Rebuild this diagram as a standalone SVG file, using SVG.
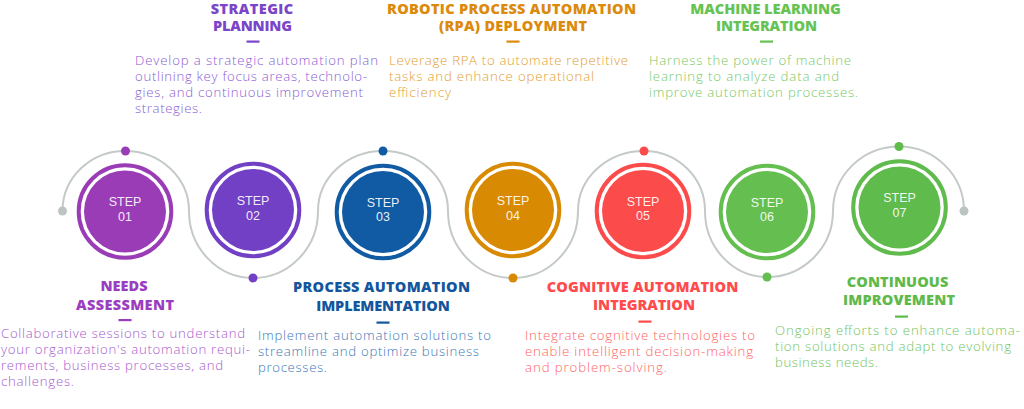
<svg xmlns="http://www.w3.org/2000/svg" width="1024" height="409" viewBox="0 0 1024 409">
<style>
.t{font-family:"Open Sans","Liberation Sans",sans-serif;font-weight:800;font-size:14.5px;text-anchor:middle}
.d{font-family:"Open Sans","Liberation Sans",sans-serif;font-weight:300;font-size:13.2px}
.s{font-family:"Liberation Sans",Arial,sans-serif;font-weight:400;font-size:12.5px;fill:#ffffff;fill-opacity:0.92;text-anchor:middle}
.ring{fill:none;stroke-width:4}
.path{fill:none;stroke:#C3CAC8;stroke-width:2}
</style>
<rect width="1024" height="409" fill="#ffffff"/>
<g id="connectors">
<path class="path" d="M62.5 211 A62.5 60 0 0 1 125 151 A64 60 0 0 1 189 211 A64 67 0 0 0 253 278 A65 67 0 0 0 318 211 A65 60 0 0 1 383 151 A65 60 0 0 1 448 211 A65 67 0 0 0 513 278 A65 67 0 0 0 578 211 A66 60 0 0 1 644 151 A61 60 0 0 1 705 211 A62 66 0 0 0 767 277 A66 66 0 0 0 833 211 A66 64.5 0 0 1 899 146.5 A65 64.5 0 0 1 964 211"/>
<circle cx="62.5" cy="211" r="4.5" fill="#BCC4C2"/>
<circle cx="964" cy="211" r="4.5" fill="#BCC4C2"/>
<circle cx="125.5" cy="151" r="4.5" fill="#9B3CB7"/>
<circle cx="253" cy="278" r="4.5" fill="#7140C4"/>
<circle cx="383" cy="151" r="4.5" fill="#105BA3"/>
<circle cx="513" cy="278" r="4.5" fill="#D88A03"/>
<circle cx="644" cy="151" r="4.5" fill="#FB4B4B"/>
<circle cx="767" cy="277" r="4.5" fill="#64BE50"/>
<circle cx="899" cy="146.5" r="4.5" fill="#5FBB4C"/>
</g>
<g id="step1">
<circle cx="125" cy="211.5" r="46.3" class="ring" stroke="#9B3CB7"/>
<circle cx="125" cy="211.5" r="41" fill="#9B3CB7"/>
<text class="s" x="125" y="206">STEP</text>
<text class="s" x="125" y="220.5">01</text>
<g fill="#9A3DBF">
<text class="t" x="124" y="291" textLength="47">NEEDS</text>
<text class="t" x="125" y="309.5" textLength="98">ASSESSMENT</text>
<rect x="118.5" y="319" width="13" height="2.2"/>
</g>
<g class="d" fill="#A65BCD">
<text x="1" y="338" textLength="244">Collaborative sessions to understand</text>
<text x="1" y="354" textLength="249">your organization's automation requi-</text>
<text x="1" y="370" textLength="222">rements, business processes, and</text>
<text x="1" y="386" textLength="73">challenges.</text>
</g>
</g>
<g id="step2">
<circle cx="253" cy="210" r="46.3" class="ring" stroke="#7140C4"/>
<circle cx="253" cy="210" r="41" fill="#7140C4"/>
<text class="s" x="253" y="205">STEP</text>
<text class="s" x="253" y="219.5">02</text>
<g fill="#7B45C9">
<text class="t" x="252" y="13.5" textLength="82.5">STRATEGIC</text>
<text class="t" x="252.5" y="31" textLength="79">PLANNING</text>
<rect x="246.5" y="40.5" width="13" height="2.2"/>
</g>
<g class="d" fill="#8C5CD4">
<text x="135" y="64.5" textLength="243">Develop a strategic automation plan</text>
<text x="135" y="80.5" textLength="232">outlining key focus areas, technolo-</text>
<text x="135" y="96.5" textLength="228">gies, and continuous improvement</text>
<text x="135" y="112.5" textLength="67">strategies.</text>
</g>
</g>
<g id="step3">
<circle cx="383" cy="212" r="46.3" class="ring" stroke="#105BA3"/>
<circle cx="383" cy="212" r="41" fill="#105BA3"/>
<text class="s" x="383" y="206.5">STEP</text>
<text class="s" x="383" y="221">03</text>
<g fill="#14569D">
<text class="t" x="381.5" y="292" textLength="177">PROCESS AUTOMATION</text>
<text class="t" x="383" y="310.5" textLength="133.5">IMPLEMENTATION</text>
<rect x="376.5" y="321.5" width="13" height="2.2"/>
</g>
<g class="d" fill="#3D78B8">
<text x="258" y="340" textLength="233">Implement automation solutions to</text>
<text x="258" y="356" textLength="221">streamline and optimize business</text>
<text x="258" y="372" textLength="69">processes.</text>
</g>
</g>
<g id="step4">
<circle cx="513" cy="210" r="46.3" class="ring" stroke="#D88A03"/>
<circle cx="513" cy="210" r="41" fill="#D88A03"/>
<text class="s" x="513" y="205">STEP</text>
<text class="s" x="513" y="219.5">04</text>
<g fill="#DB8A0C">
<text class="t" x="511.5" y="13.5" textLength="249">ROBOTIC PROCESS AUTOMATION</text>
<text class="t" x="513" y="31" textLength="148">(RPA) DEPLOYMENT</text>
<rect x="506.5" y="40.5" width="13" height="2.2"/>
</g>
<g class="d" fill="#E39E2E">
<text x="389" y="65" textLength="239">Leverage RPA to automate repetitive</text>
<text x="389" y="81" textLength="205">tasks and enhance operational</text>
<text x="389" y="97" textLength="62">efficiency</text>
</g>
</g>
<g id="step5">
<circle cx="643" cy="211" r="46.3" class="ring" stroke="#FB4B4B"/>
<circle cx="643" cy="211" r="41" fill="#FB4B4B"/>
<text class="s" x="643" y="205.5">STEP</text>
<text class="s" x="643" y="220">05</text>
<g fill="#FF4B4B">
<text class="t" x="642.5" y="291.5" textLength="191.5">COGNITIVE AUTOMATION</text>
<text class="t" x="644" y="310" textLength="102">INTEGRATION</text>
<rect x="638.5" y="320.5" width="13" height="2.2"/>
</g>
<g class="d" fill="#FF6363">
<text x="525" y="340" textLength="230">Integrate cognitive technologies to</text>
<text x="525" y="356" textLength="228">enable intelligent decision-making</text>
<text x="525" y="372" textLength="142">and problem-solving.</text>
</g>
</g>
<g id="step6">
<circle cx="767" cy="212" r="46.3" class="ring" stroke="#64BE50"/>
<circle cx="767" cy="212" r="41" fill="#64BE50"/>
<text class="s" x="767" y="206.5">STEP</text>
<text class="s" x="767" y="221">06</text>
<g fill="#66C353">
<text class="t" x="765.5" y="13.5" textLength="150.5">MACHINE LEARNING</text>
<text class="t" x="766.5" y="31" textLength="101">INTEGRATION</text>
<rect x="760" y="40.5" width="13" height="2.2"/>
</g>
<g class="d" fill="#78C966">
<text x="649" y="64.5" textLength="202">Harness the power of machine</text>
<text x="649" y="80.5" textLength="190">learning to analyze data and</text>
<text x="649" y="96.5" textLength="209">improve automation processes.</text>
</g>
</g>
<g id="step7">
<circle cx="899.5" cy="207.5" r="46.3" class="ring" stroke="#5FBB4C"/>
<circle cx="899.5" cy="207.5" r="41" fill="#5FBB4C"/>
<text class="s" x="899.5" y="202">STEP</text>
<text class="s" x="899.5" y="216.5">07</text>
<g fill="#5FBA4B">
<text class="t" x="897.5" y="287" textLength="101.5">CONTINUOUS</text>
<text class="t" x="899" y="304.5" textLength="112">IMPROVEMENT</text>
<rect x="895" y="315.5" width="13" height="2.2"/>
</g>
<g class="d" fill="#73C461">
<text x="775" y="335" textLength="245">Ongoing efforts to enhance automa-</text>
<text x="775" y="351" textLength="236">tion solutions and adapt to evolving</text>
<text x="775" y="367" textLength="103">business needs.</text>
</g>
</g>
</svg>
